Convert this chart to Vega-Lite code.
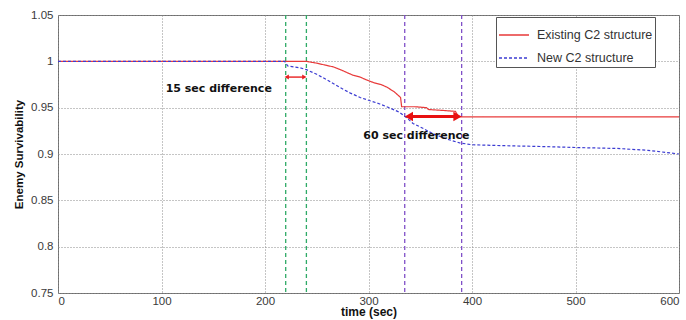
{
  "$schema": "https://vega.github.io/schema/vega-lite/v6.json",
  "width": 621,
  "height": 278,
  "autosize": "none",
  "padding": {"left": 58, "top": 15, "right": 7, "bottom": 27},
  "background": "white",
  "config": {
    "font": "Liberation Sans",
    "view": {"stroke": "#6e6e6e", "strokeWidth": 1},
    "axis": {
      "grid": true,
      "gridDash": [1, 2],
      "gridColor": "#8a8a8a",
      "gridOpacity": 1,
      "gridWidth": 1,
      "ticks": false,
      "domain": false,
      "labelFont": "Liberation Sans",
      "labelFontSize": 11.5,
      "labelColor": "#3a3a3a",
      "titleFont": "Liberation Sans",
      "titleFontWeight": "bold",
      "titleColor": "#111111"
    }
  },
  "datasets": {
    "series": [
      {"t": 0, "v": 1, "s": "Existing C2 structure"},
      {"t": 240, "v": 1, "s": "Existing C2 structure"},
      {"t": 250, "v": 0.998, "s": "Existing C2 structure"},
      {"t": 258, "v": 0.996, "s": "Existing C2 structure"},
      {"t": 266, "v": 0.994, "s": "Existing C2 structure"},
      {"t": 275, "v": 0.99, "s": "Existing C2 structure"},
      {"t": 285, "v": 0.985, "s": "Existing C2 structure"},
      {"t": 292, "v": 0.983, "s": "Existing C2 structure"},
      {"t": 298, "v": 0.98, "s": "Existing C2 structure"},
      {"t": 305, "v": 0.977, "s": "Existing C2 structure"},
      {"t": 312, "v": 0.975, "s": "Existing C2 structure"},
      {"t": 318, "v": 0.972, "s": "Existing C2 structure"},
      {"t": 325, "v": 0.967, "s": "Existing C2 structure"},
      {"t": 331, "v": 0.961, "s": "Existing C2 structure"},
      {"t": 332, "v": 0.951, "s": "Existing C2 structure"},
      {"t": 345, "v": 0.951, "s": "Existing C2 structure"},
      {"t": 356, "v": 0.950, "s": "Existing C2 structure"},
      {"t": 358, "v": 0.948, "s": "Existing C2 structure"},
      {"t": 372, "v": 0.947, "s": "Existing C2 structure"},
      {"t": 384, "v": 0.946, "s": "Existing C2 structure"},
      {"t": 387, "v": 0.940, "s": "Existing C2 structure"},
      {"t": 600, "v": 0.940, "s": "Existing C2 structure"},
      {"t": 0, "v": 1, "s": "New C2 structure"},
      {"t": 219, "v": 1, "s": "New C2 structure"},
      {"t": 222, "v": 0.995, "s": "New C2 structure"},
      {"t": 234, "v": 0.993, "s": "New C2 structure"},
      {"t": 240, "v": 0.991, "s": "New C2 structure"},
      {"t": 250, "v": 0.986, "s": "New C2 structure"},
      {"t": 260, "v": 0.980, "s": "New C2 structure"},
      {"t": 272, "v": 0.972, "s": "New C2 structure"},
      {"t": 282, "v": 0.966, "s": "New C2 structure"},
      {"t": 292, "v": 0.961, "s": "New C2 structure"},
      {"t": 300, "v": 0.958, "s": "New C2 structure"},
      {"t": 311, "v": 0.954, "s": "New C2 structure"},
      {"t": 322, "v": 0.949, "s": "New C2 structure"},
      {"t": 330, "v": 0.945, "s": "New C2 structure"},
      {"t": 337, "v": 0.939, "s": "New C2 structure"},
      {"t": 343, "v": 0.933, "s": "New C2 structure"},
      {"t": 352, "v": 0.928, "s": "New C2 structure"},
      {"t": 362, "v": 0.922, "s": "New C2 structure"},
      {"t": 376, "v": 0.916, "s": "New C2 structure"},
      {"t": 388, "v": 0.912, "s": "New C2 structure"},
      {"t": 400, "v": 0.910, "s": "New C2 structure"},
      {"t": 430, "v": 0.909, "s": "New C2 structure"},
      {"t": 470, "v": 0.908, "s": "New C2 structure"},
      {"t": 500, "v": 0.907, "s": "New C2 structure"},
      {"t": 540, "v": 0.906, "s": "New C2 structure"},
      {"t": 570, "v": 0.904, "s": "New C2 structure"},
      {"t": 600, "v": 0.900, "s": "New C2 structure"}
    ]
  },
  "layer": [
    {
      "data": {"values": [{"t": 220}, {"t": 240}]},
      "mark": {"type": "rule", "color": "#2eaa66", "strokeDash": [4, 3], "strokeWidth": 1.3},
      "encoding": {
        "x": {"field": "t", "type": "quantitative", "scale": {"domain": [0, 600], "nice": false},
          "axis": {"values": [0, 100, 200, 300, 400, 500, 600], "title": "time (sec)", "titleFontSize": 12, "labelPadding": 2, "titlePadding": 0}}
      }
    },
    {
      "data": {"values": [{"t": 335}, {"t": 390}]},
      "mark": {"type": "rule", "color": "#8050c8", "strokeDash": [4, 3], "strokeWidth": 1.3},
      "encoding": {"x": {"field": "t", "type": "quantitative"}}
    },
    {
      "data": {"name": "series"},
      "mark": {"type": "line", "strokeWidth": 1.2},
      "encoding": {
        "x": {"field": "t", "type": "quantitative"},
        "y": {"field": "v", "type": "quantitative", "scale": {"domain": [0.75, 1.05], "nice": false},
          "axis": {"values": [0.75, 0.8, 0.85, 0.9, 0.95, 1, 1.05], "format": ".2~f", "title": "Enemy Survivability", "titleFontSize": 11.5, "labelPadding": 5, "titlePadding": 6}},
        "color": {"field": "s", "type": "nominal", "scale": {"domain": ["Existing C2 structure", "New C2 structure"], "range": ["#e83a3a", "#3c3cd2"]},
          "legend": {"title": null, "orient": "none", "legendX": 438, "legendY": 2, "direction": "vertical",
            "strokeColor": "#555555", "fillColor": "white", "padding": 2, "symbolType": "M-1,0H1", "symbolSize": 900,
            "symbolStrokeWidth": 1.5, "labelFontSize": 12.5, "labelColor": "#333333", "rowPadding": -8, "labelOffset": 7, "labelLimit": 300}},
        "strokeDash": {"field": "s", "type": "nominal", "scale": {"domain": ["Existing C2 structure", "New C2 structure"], "range": [[1, 0], [3, 2]]}}
      }
    },
    {
      "data": {"values": [{"a": 221, "b": 238, "y": 0.983}]},
      "mark": {"type": "rule", "color": "#e82020", "strokeWidth": 1.4},
      "encoding": {"x": {"field": "a", "type": "quantitative"}, "x2": {"field": "b"}, "y": {"field": "y", "type": "quantitative"}}
    },
    {
      "data": {"values": [{"a": 221, "b": 238, "y": 0.983}]},
      "mark": {"type": "point", "shape": "triangle-left", "filled": true, "color": "#e82020", "size": 25, "opacity": 1},
      "encoding": {"x": {"field": "a", "type": "quantitative"}, "y": {"field": "y", "type": "quantitative"}}
    },
    {
      "data": {"values": [{"a": 221, "b": 238, "y": 0.983}]},
      "mark": {"type": "point", "shape": "triangle-right", "filled": true, "color": "#e82020", "size": 25, "opacity": 1},
      "encoding": {"x": {"field": "b", "type": "quantitative"}, "y": {"field": "y", "type": "quantitative"}}
    },
    {
      "data": {"values": [{"a": 340, "b": 384, "y": 0.9405}]},
      "mark": {"type": "rule", "color": "#e81010", "strokeWidth": 3},
      "encoding": {"x": {"field": "a", "type": "quantitative"}, "x2": {"field": "b"}, "y": {"field": "y", "type": "quantitative"}}
    },
    {
      "data": {"values": [{"a": 339, "b": 386, "y": 0.9405}]},
      "mark": {"type": "point", "shape": "triangle-left", "filled": true, "color": "#e81010", "size": 90, "opacity": 1},
      "encoding": {"x": {"field": "a", "type": "quantitative"}, "y": {"field": "y", "type": "quantitative"}}
    },
    {
      "data": {"values": [{"a": 339, "b": 386, "y": 0.9405}]},
      "mark": {"type": "point", "shape": "triangle-right", "filled": true, "color": "#e81010", "size": 90, "opacity": 1},
      "encoding": {"x": {"field": "b", "type": "quantitative"}, "y": {"field": "y", "type": "quantitative"}}
    },
    {
      "data": {"values": [{"t": 104, "v": 0.970, "label": "15 sec difference"}, {"t": 295, "v": 0.919, "label": "60 sec difference"}]},
      "mark": {"type": "text", "align": "left", "baseline": "middle", "font": "DejaVu Sans", "fontWeight": "bold", "fontSize": 11, "color": "#111111"},
      "encoding": {"x": {"field": "t", "type": "quantitative"}, "y": {"field": "v", "type": "quantitative"}, "text": {"field": "label"}}
    }
  ]
}
